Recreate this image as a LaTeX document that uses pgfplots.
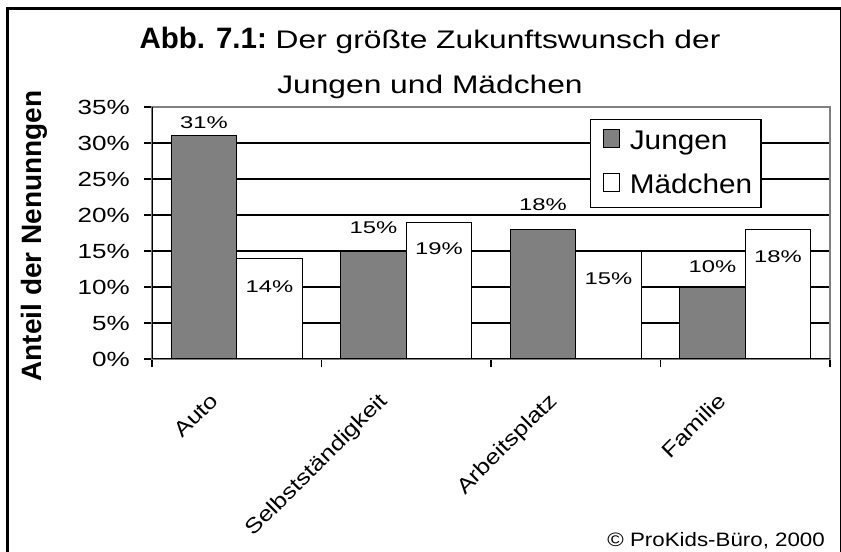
\documentclass[border=0pt]{standalone}
\usepackage{fontspec}
\setmainfont{Liberation Sans}
\usepackage{graphicx}
\usepackage{pgfplots}
\pgfplotsset{compat=1.18}
\newcommand{\sx}[2]{\scalebox{#1}[1]{#2}}
\definecolor{barg}{HTML}{808080}
\pgfplotsset{sqlegend/.style={legend image code/.code={%
  \draw[##1, line width=1.2bp] (0bp,-6bp) rectangle (16bp,12bp);
  \path (-3bp,0bp) (26bp,0bp);}}}
\begin{document}
\begin{tikzpicture}
\useasboundingbox (0,0) rectangle (841bp,552bp);
\fill[white] (0,0) rectangle (841bp,552bp);
\begin{axis}[
  at={(152bp,193bp)}, anchor=south west,
  scale only axis, width=678bp, height=252bp,
  xmin=-0.5, xmax=3.5, ymin=0, ymax=35,
  ybar=0pt, bar width=65.5bp,
  xtick={-0.5,0.5,1.5,2.5,3.5}, xticklabels={,,,,},
  extra x ticks={0,1,2,3},
  extra x tick labels={\sx{1.2}{Auto},\sx{1.2}{Selbstständigkeit},\sx{1.2}{Arbeitsplatz},\sx{1.2}{Familie}},
  extra x tick style={major tick length=0pt},
  xticklabel style={xshift=-17.5bp, yshift=-43bp, rotate=45, anchor=base east, inner sep=0pt,
    font=\fontsize{21bp}{25bp}\selectfont},
  ytick={0,5,10,15,20,25,30,35},
  yticklabels={\sx{1.27}{0\%},\sx{1.27}{5\%},\sx{1.27}{10\%},\sx{1.27}{15\%},\sx{1.27}{20\%},\sx{1.27}{25\%},\sx{1.27}{30\%},\sx{1.27}{35\%}},
  yticklabel style={anchor=east, inner sep=0pt, xshift=-14bp,
    font=\fontsize{20.5bp}{24bp}\selectfont},
  tick align=outside, major tick length=8bp, tick pos=left,
  tick style={black, line width=1.3bp},
  ymajorgrids, grid style={black, line width=1.3bp},
  axis line style={draw=barg, line width=1.5bp},
  legend style={at={(0.646,0.952)}, anchor=north west, draw=black, line width=1.2bp,
    fill=white, inner xsep=9bp, inner ysep=0bp, row sep=0pt,
    font=\fontsize{27bp}{32bp}\selectfont,
    nodes={text height=20bp, text depth=4bp, inner ysep=10bp, inner xsep=0bp}},
  legend cell align=left,
]
\addplot[fill=barg, draw=black, line width=1.3bp, sqlegend]
  coordinates {(0,31) (1,15) (2,18) (3,10)};
\addplot[fill=white, draw=black, line width=1.3bp, sqlegend]
  coordinates {(0,14) (1,19) (2,15) (3,18)};
\legend{\sx{1.1}{Jungen}, \sx{1.1}{Mädchen}}
\draw[black, line width=1.5bp] (axis cs:-0.5,35) |- (axis cs:3.5,0);
% data labels
\tikzset{lab/.style={font=\fontsize{17bp}{20bp}\selectfont, inner sep=0pt, anchor=center}}
\node[lab, xshift=-32.75bp] at (axis cs:0,32.85) {\sx{1.4}{31\%}};
\node[lab, xshift=-32.75bp] at (axis cs:1,18.26) {\sx{1.4}{15\%}};
\node[lab, xshift=-32.75bp] at (axis cs:2,21.39) {\sx{1.4}{18\%}};
\node[lab, xshift=-32.75bp] at (axis cs:3,12.85) {\sx{1.4}{10\%}};
\node[lab, xshift=32.75bp] at (axis cs:0,10.0) {\sx{1.4}{14\%}};
\node[lab, xshift=32.75bp] at (axis cs:1,15.35) {\sx{1.4}{19\%}};
\node[lab, xshift=32.75bp] at (axis cs:2,11.18) {\sx{1.4}{15\%}};
\node[lab, xshift=32.75bp] at (axis cs:3,14.17) {\sx{1.4}{18\%}};
\end{axis}
\draw[line width=3bp] (7.7bp,543.2bp) -- (841bp,543.2bp);
\draw[line width=3bp] (7.7bp,544.7bp) -- (7.7bp,0bp);
\draw[line width=2bp] (840.5bp,544.2bp) -- (840.5bp,0bp);
\node[anchor=base, inner sep=0pt] at (430bp,503bp)
  {\fontsize{25.4bp}{30bp}\selectfont{\bfseries\fontsize{29.5bp}{34bp}\selectfont Abb. 7.1:}\hspace{8.8bp}\sx{1.25}{Der größte Zukunftswunsch der}};
\node[anchor=base, inner sep=0pt] at (430bp,458bp)
  {\fontsize{25.4bp}{30bp}\selectfont\sx{1.25}{Jungen und Mädchen}};
\node[rotate=90, anchor=base, inner sep=0pt] at (41bp,316bp)
  {\bfseries\fontsize{28bp}{32bp}\selectfont Anteil der Nenunngen};
\node[anchor=base east, inner sep=0pt] at (825bp,6bp)
  {\fontsize{19.4bp}{23bp}\selectfont\sx{1.15}{© ProKids-Büro, 2000}};
\end{tikzpicture}
\end{document}
